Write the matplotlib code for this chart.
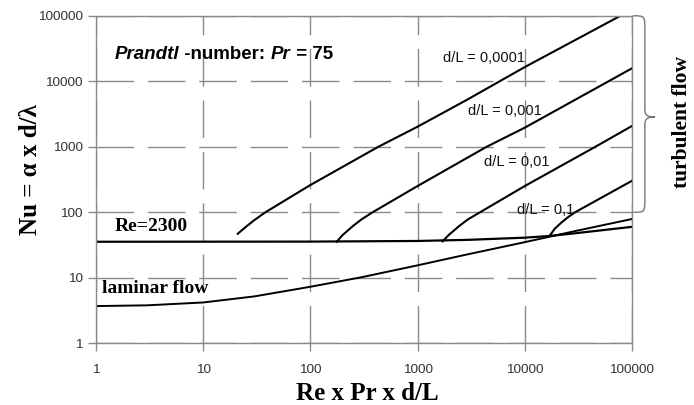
import numpy as np
import matplotlib.pyplot as plt
from matplotlib.path import Path
from matplotlib.patches import PathPatch

# values (x = Re*Pr*d/L, y = Nu)
lam_x = [1, 3, 10, 30, 100, 300, 1000, 3000, 10000, 30000, 100000]
lam_nu = [3.7, 3.8, 4.2, 5.2, 7.3, 10.2, 15.5, 23, 35, 52, 79]

re_x = [1, 100, 1000, 3000, 10000, 17000, 30000, 100000]
re_nu = [35.5, 35.7, 36.5, 38, 41, 43.5, 48, 60]

t1_x = [21, 25, 30, 38, 100, 430, 1000, 2870, 10000, 78000]
t1_nu = [47, 60, 76, 100, 261, 1000, 2030, 5190, 16500, 100000]

t2_x = [176, 200, 250, 300, 380, 1000, 4400, 10000, 100000]
t2_nu = [35.6, 45, 62, 78, 100, 252, 1000, 1960, 15800]

t3_x = [1710, 1950, 2450, 2950, 3820, 10000, 45500, 100000]
t3_nu = [36, 45, 62, 78, 100, 252, 1000, 2080]

t4_x = [17000, 19000, 22000, 25500, 29400, 100000]
t4_nu = [43.5, 56, 70, 85, 100, 303]

labels = ["d/L = 0,0001", "d/L = 0,001", "d/L = 0,01", "d/L = 0,1"]
label_pos = [(4160, 22700), (6530, 3500), (8450, 590), (15800, 108)]

ticks = [1, 10, 100, 1000, 10000, 100000]
tick_labels = ["1", "10", "100", "1000", "10000", "100000"]

sans = "Liberation Sans"
serif = "Liberation Serif"
gray = "#8a8a8a"

fig = plt.figure(figsize=(6.94, 4.05), dpi=100)
ax = fig.add_axes([96/694, 1-343.3/405, 536/694, 327.5/405])
ax.set_xscale("log")
ax.set_yscale("log")
ax.set_xlim(1, 100000)
ax.set_ylim(1, 100000)

ax.plot(lam_x, lam_nu, color="black", lw=1.4)
ax.plot(re_x, re_nu, color="black", lw=1.6)
for xs, ys in [(t1_x, t1_nu), (t2_x, t2_nu), (t3_x, t3_nu), (t4_x, t4_nu)]:
    ax.plot(xs, ys, color="black", lw=1.5)

for s, (lx, ly) in zip(labels, label_pos):
    ax.text(lx, ly, s, family=sans, fontsize=10.5, ha="center", va="center", color="#111")

ax.set_xticks(ticks)
ax.set_xticklabels(tick_labels)
ax.set_yticks(ticks)
ax.set_yticklabels(tick_labels)
ax.minorticks_off()
ax.tick_params(axis="both", direction="out", length=6, width=1, color=gray,
               labelsize=9.7, labelcolor="#333")
ax.tick_params(axis="x", pad=9)
for lab in ax.get_xticklabels() + ax.get_yticklabels():
    lab.set_family(sans)
for sp in ax.spines.values():
    sp.set_color(gray)
    sp.set_linewidth(1)

ax.grid(True, which="major", color=gray, lw=1, linestyle=(0, (27, 10)))
ax.set_axisbelow(True)

ax.set_xlabel("Re x Pr x d/L", family=serif, fontweight="bold", fontsize=18)
ax.xaxis.set_label_coords(0.507, -0.118)
ax.set_ylabel("Nu = α x d/λ", family=serif, fontweight="bold", fontsize=18)
ax.yaxis.set_label_coords(-0.10, 0.532)

# Prandtl number note
t = ax.text(0.035, 0.855, "Prandtl", transform=ax.transAxes, family=sans,
            fontsize=13.5, fontweight="bold", style="italic", va="bottom")
t = ax.annotate(" -number: ", xy=(1, 0), xycoords=t, family=sans, fontsize=13.5,
                fontweight="bold", va="bottom")
t = ax.annotate("Pr", xy=(1, 0), xycoords=t, family=sans, fontsize=13.5,
                fontweight="bold", style="italic", va="bottom")
ax.annotate(" = 75", xy=(1, 0), xycoords=t, family=sans, fontsize=13.5,
            fontweight="bold", va="bottom")

ax.text(1.5, 60, "Re=2300", family=serif, fontweight="bold", fontsize=14, va="center")
ax.text(1.14, 6.8, "laminar flow", family=serif, fontweight="bold", fontsize=14, va="center")

# brace marking the turbulent region
xs, xb, xt = 1.002, 1.024, 1.043
yt, ym, ybt = 1.0, 0.691, 0.4
verts = [(xs, yt), (xb, yt), (xb, yt), (xb, yt-0.045),
         (xb, ym+0.03),
         (xb, ym+0.01), (xb, ym), (xt, ym),
         (xb, ym), (xb, ym-0.01), (xb, ym-0.03),
         (xb, ybt+0.045),
         (xb, ybt), (xb, ybt), (xs, ybt)]
codes = [Path.MOVETO, Path.CURVE4, Path.CURVE4, Path.CURVE4,
         Path.LINETO,
         Path.CURVE4, Path.CURVE4, Path.CURVE4,
         Path.CURVE4, Path.CURVE4, Path.CURVE4,
         Path.LINETO,
         Path.CURVE4, Path.CURVE4, Path.CURVE4]
ax.add_patch(PathPatch(Path(verts, codes), transform=ax.transAxes, fill=False,
                       edgecolor="#777", lw=1, clip_on=False))
ax.text(1.093, 0.675, "turbulent flow", transform=ax.transAxes, rotation=90,
        family=serif, fontweight="bold", fontsize=15.5, ha="center", va="center")

plt.savefig("out.png", dpi=100)
